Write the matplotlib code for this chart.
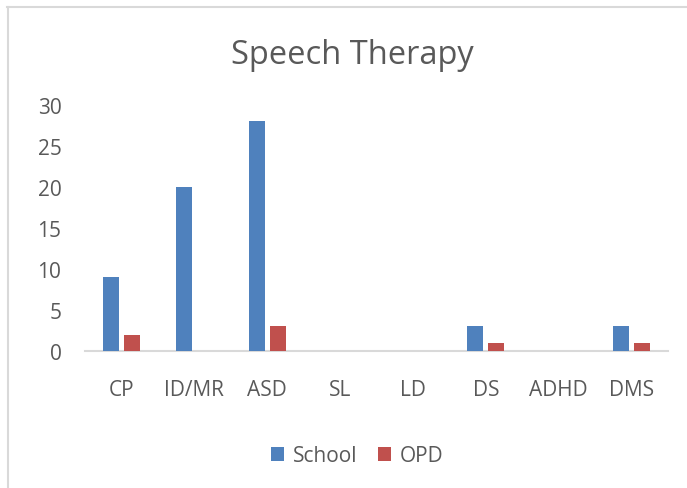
import matplotlib
matplotlib.use("Agg")
import matplotlib.pyplot as plt
from matplotlib.lines import Line2D
import numpy as np

categories = ["CP", "ID/MR", "ASD", "SL", "LD", "DS", "ADHD", "DMS"]
school = [9, 20, 28, 0, 0, 3, 0, 3]
opd = [2, 0, 3, 0, 0, 1, 0, 1]
yticks = [0, 5, 10, 15, 20, 25, 30]

plt.rcParams['font.family'] = ['Open Sans', 'DejaVu Sans']
txt = '#595959'

W, H = 687, 489
fig = plt.figure(figsize=(W/100, H/100), dpi=100)
ax = fig.add_axes([85/W, 1-352/H, (668-85)/W, (352-106)/H])

x = np.arange(len(categories))
bw = 0.22
off = 0.145
ax.bar(x - off, school, bw, color='#4F81BD', label='School', zorder=3)
ax.bar(x + off, opd, bw, color='#C0504D', label='OPD', zorder=3)

ax.set_xlim(-0.5, len(categories) - 0.5)
ax.set_ylim(0, 30)
ax.set_yticks(yticks)
ax.set_xticks(x)
ax.set_xticklabels(categories)
for s in ['top', 'right', 'left']:
    ax.spines[s].set_visible(False)
ax.spines['bottom'].set_color('#D9D9D9')
ax.spines['bottom'].set_linewidth(1.5)
ax.tick_params(axis='both', length=0, colors=txt, labelsize=15)
ax.tick_params(axis='x', pad=20)
ax.tick_params(axis='y', pad=17)

fig.text(352/W, 1-55/H, "Speech Therapy", ha='center', va='center', fontsize=23.5, color=txt)

leg = fig.legend(loc='center', bbox_to_anchor=(357/W, 1-457/H), ncol=2, frameon=False,
                 fontsize=15, handlelength=0.65, handleheight=0.65, handletextpad=0.4,
                 columnspacing=1.0)
for t in leg.get_texts():
    t.set_color(txt)

fig.add_artist(Line2D([7/W, 1], [1-7.5/H, 1-7.5/H], color='#D9D9D9', lw=1.5))
fig.add_artist(Line2D([7.5/W, 7.5/W], [0, 1-7.5/H], color='#D9D9D9', lw=1.5))

fig.savefig("out.png", dpi=100)
